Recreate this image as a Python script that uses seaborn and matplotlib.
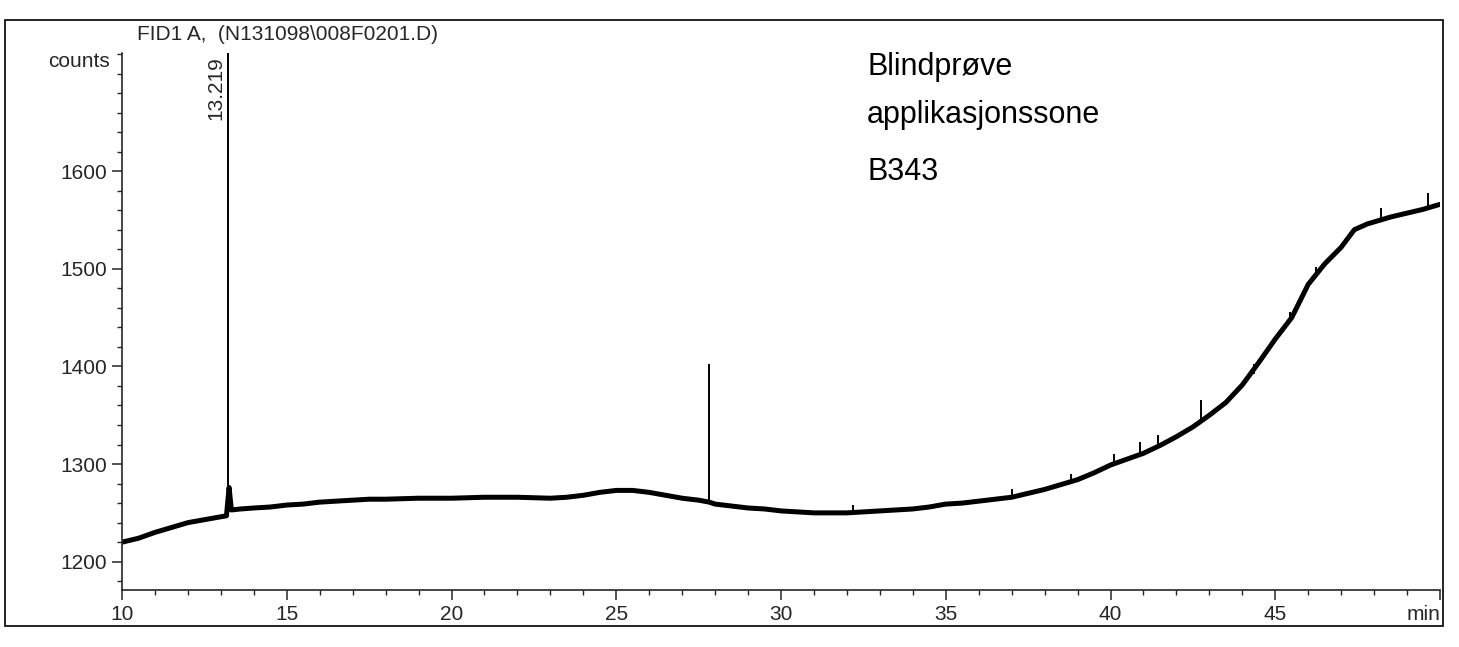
import matplotlib
matplotlib.use("Agg")
import pandas as pd
import matplotlib.pyplot as plt
import seaborn as sns
from matplotlib.patches import Rectangle
from matplotlib.ticker import MultipleLocator

# baseline trace (retention time in min, detector counts)
time_min = [10.0, 10.5, 11.0, 11.5, 12.0, 12.5, 13.0, 13.17, 13.25, 13.32, 13.6,
            14.0, 14.5, 15.0, 15.5, 16.0, 16.5, 17.0, 17.5, 18.0, 19.0, 20.0,
            21.0, 22.0, 23.0, 23.5, 24.0, 24.5, 25.0, 25.5, 26.0, 26.5, 27.0,
            27.5, 27.82, 28.0, 28.5, 29.0, 29.5, 30.0, 30.5, 31.0, 31.5, 32.0,
            32.5, 33.0, 33.5, 34.0, 34.5, 35.0, 35.5, 36.0, 36.5, 37.0, 37.5,
            38.0, 38.5, 39.0, 39.5, 40.0, 40.5, 41.0, 41.5, 42.0, 42.5, 43.0,
            43.5, 44.0, 44.5, 45.0, 45.5, 46.0, 46.5, 47.0, 47.4, 47.8, 48.0,
            48.5, 49.0, 49.5, 50.0]
counts = [1220, 1224, 1230, 1235, 1240, 1243, 1246, 1247, 1276, 1253, 1254,
          1255, 1256, 1258, 1259, 1261, 1262, 1263, 1264, 1264, 1265, 1265,
          1266, 1266, 1265, 1266, 1268, 1271, 1273, 1273, 1271, 1268, 1265,
          1263, 1261, 1259, 1257, 1255, 1254, 1252, 1251, 1250, 1250, 1250,
          1251, 1252, 1253, 1254, 1256, 1259, 1260, 1262, 1264, 1266, 1270,
          1274, 1279, 1284, 1291, 1299, 1305, 1311, 1319, 1328, 1338, 1350,
          1363, 1381, 1404, 1428, 1450, 1484, 1505, 1522, 1540, 1546, 1548,
          1553, 1557, 1561, 1566]

# narrow peaks / spikes (time, base, apex)
spike_time = [13.219, 27.82, 32.2, 37.0, 38.8, 40.1, 40.9, 41.45, 42.75,
              44.35, 45.45, 46.25, 48.2, 49.65]
spike_base = [1248, 1261, 1250, 1266, 1281, 1300, 1311, 1318, 1344,
              1392, 1446, 1494, 1549, 1562]
spike_top = [1760, 1402, 1258, 1274, 1290, 1310, 1323, 1330, 1366,
             1402, 1456, 1502, 1562, 1578]

x_ticks = [10, 15, 20, 25, 30, 35, 40, 45, 50]
x_tick_labels = ["10", "15", "20", "25", "30", "35", "40", "45", "min"]
y_ticks = [1200, 1300, 1400, 1500, 1600]

note_lines = ["Blindprøve", "applikasjonssone", "B343"]

sns.set_style("ticks")
plt.rcParams['font.family'] = ['Liberation Sans', 'DejaVu Sans']

W, H = 1459, 647
fig = plt.figure(figsize=(W / 100, H / 100), dpi=100)
ax = fig.add_axes([122 / W, 1 - 590 / H, (1440 - 122) / W, (590 - 53) / H])

df = pd.DataFrame({"time": time_min, "counts": counts})
sns.lineplot(data=df, x="time", y="counts", ax=ax, color="black",
             linewidth=3.6, estimator=None, sort=False)
ax.vlines(spike_time, spike_base, spike_top, color="black", linewidth=1.4)

ax.set_xlim(10, 50)
ax.set_ylim(1171, 1721)
ax.set_xlabel("")
ax.set_ylabel("")
sns.despine(ax=ax)
for s in ("left", "bottom"):
    ax.spines[s].set_linewidth(1.2)

ax.set_xticks(x_ticks)
ax.set_xticklabels(x_tick_labels, fontsize=15)
ax.get_xticklabels()[-1].set_horizontalalignment("right")
ax.set_yticks(y_ticks)
ax.set_yticklabels([str(v) for v in y_ticks], fontsize=15)
ax.xaxis.set_minor_locator(MultipleLocator(1))
ax.yaxis.set_minor_locator(MultipleLocator(20))
ax.tick_params(which="major", direction="out", length=7, width=1.1, pad=4)
ax.tick_params(which="minor", direction="out", length=3.5, width=1.0)
ax.tick_params(axis="x", which="major", pad=4)

ax.annotate("13.219", xy=(spike_time[0], 1721), xytext=(-2, -2),
            textcoords="offset points", rotation=90, ha="right", va="top",
            fontsize=15)
ax.text(-0.009, 0.985, "counts", transform=ax.transAxes, ha="right",
        va="center", fontsize=15)

fig.text(137 / W, 1 - 34 / H, "FID1 A,  (N131098\\008F0201.D)",
         va="center", fontsize=15)

# handwritten note, baselines at 75, 123 and 180 px from the top
for line, base_px in zip(note_lines, [75, 123, 180]):
    fig.text(867 / W, 1 - base_px / H, line, fontsize=22,
             family=["Liberation Sans Narrow", "Liberation Sans"],
             va="baseline", color="black")

fig.add_artist(Rectangle((5 / W, 1 - 626 / H), (1443 - 5) / W, (626 - 20) / H,
                         transform=fig.transFigure, fill=False,
                         edgecolor="black", linewidth=1.2))

fig.savefig("out.png", dpi=100)
